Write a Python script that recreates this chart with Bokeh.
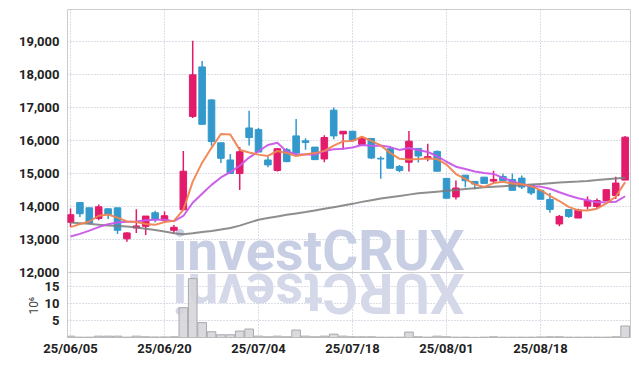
import math
from bokeh.plotting import figure
from bokeh.models import Range1d, FixedTicker, Grid, Span, Label
from bokeh.embed import file_html
from bokeh.resources import INLINE
from bokeh.core.properties import value

dates = ["25/06/05", "25/06/09", "25/06/10", "25/06/11", "25/06/12", "25/06/13",
         "25/06/16", "25/06/17", "25/06/18", "25/06/19", "25/06/20",
         "25/06/23", "25/06/24", "25/06/25", "25/06/26", "25/06/27",
         "25/06/30", "25/07/01", "25/07/02", "25/07/03", "25/07/04",
         "25/07/07", "25/07/08", "25/07/09", "25/07/10", "25/07/11",
         "25/07/14", "25/07/15", "25/07/16", "25/07/17", "25/07/18",
         "25/07/21", "25/07/22", "25/07/23", "25/07/24", "25/07/25",
         "25/07/28", "25/07/29", "25/07/30", "25/07/31", "25/08/01",
         "25/08/04", "25/08/05", "25/08/06", "25/08/07", "25/08/08",
         "25/08/11", "25/08/12", "25/08/13", "25/08/14",
         "25/08/18", "25/08/19", "25/08/20", "25/08/21", "25/08/22",
         "25/08/25", "25/08/26", "25/08/27", "25/08/28", "25/08/29"]

opens = [13520, 14120, 13960, 13640, 13930, 13960, 13020, 13350, 13400, 13810,
         13580, 13280, 13900, 16730, 18230, 17230, 15930, 15410, 15000, 16380,
         16330, 15410, 15090, 15720, 16140, 15990, 15800, 15440, 16920, 16200,
         16280, 15880, 16060, 15460, 15750, 15210, 15340, 15760, 15470, 15670,
         14850, 14290, 14950, 14760, 14890, 14770, 14910, 14820, 14860, 14650,
         14490, 14210, 13470, 13910, 13650, 14010, 14000, 14180, 14330, 14800]
highs = [13940, 14140, 13960, 14060, 13950, 13960, 13220, 13920, 13710, 13870,
         13850, 13440, 15680, 19020, 18410, 17250, 15930, 15590, 15800, 16900,
         16380, 15500, 15770, 15770, 16650, 16070, 15800, 16160, 17000, 16280,
         16280, 16130, 16060, 15520, 15830, 15260, 16290, 15760, 15900, 15700,
         14850, 14790, 14950, 14760, 14890, 15080, 14990, 15000, 14940, 14650,
         14490, 14410, 13740, 13910, 13930, 14300, 14240, 14510, 14900, 16140]
lows = [13380, 13680, 13460, 13580, 13620, 13170, 12930, 13200, 13140, 13520,
        13500, 13200, 13860, 16680, 16490, 15840, 15320, 15000, 14500, 15850,
        15650, 15190, 15060, 15340, 15600, 15720, 15420, 15340, 16040, 15730,
        16000, 15860, 15440, 14840, 15160, 15040, 15060, 15330, 15370, 15070,
        14250, 14210, 14580, 14520, 14700, 14700, 14740, 14490, 14530, 14350,
        14220, 13810, 13400, 13660, 13650, 13910, 13950, 14180, 14230, 14800]
closes = [13750, 13780, 13500, 13990, 13760, 13280, 13200, 13410, 13710, 13620,
          13720, 13370, 15070, 17990, 16490, 15970, 15460, 15000, 15660, 16090,
          15650, 15260, 15750, 15360, 15620, 15940, 15420, 16090, 16140, 16280,
          16000, 16060, 15470, 15440, 15160, 15090, 15980, 15530, 15510, 15070,
          14250, 14560, 14780, 14680, 14700, 14820, 14780, 14490, 14590, 14410,
          14220, 13910, 13700, 13700, 13890, 14190, 14180, 14510, 14710, 16100]
volume_m = [0.4, 0.1, 0.1, 0.4, 0.4, 0.4, 0.1, 0.4, 0.2, 0.15,
            0.15, 0.2, 8.8, 17.4, 4.4, 1.7, 0.8, 0.8, 1.9, 2.5,
            0.4, 0.2, 0.4, 0.2, 2.2, 0.4, 0.2, 0.4, 1.0, 0.4,
            0.2, 0.2, 0.2, 0.1, 0.1, 0.1, 1.6, 0.2, 0.1, 0.4,
            0.2, 0.1, 0.1, 0.05, 0.1, 0.2, 0.1, 0.1, 0.1, 0.1,
            0.15, 0.2, 0.2, 0.1, 0.1, 0.1, 0.1, 0.1, 0.2, 3.4]
ma5 = [13375, 13465, 13545, 13720, 13756, 13662, 13546, 13528, 13472, 13444,
       13532, 13566, 13898, 14754, 15328, 15778, 16196, 16182, 15716, 15636,
       15572, 15532, 15682, 15622, 15528, 15586, 15618, 15686, 15842, 15974,
       15986, 16114, 15990, 15850, 15626, 15444, 15428, 15440, 15454, 15436,
       15268, 14984, 14834, 14668, 14594, 14708, 14752, 14694, 14676, 14618,
       14498, 14324, 14166, 13988, 13884, 13878, 13932, 14094, 14296, 14738]
ma10 = [13090, 13170, 13270, 13375, 13465, 13515, 13535, 13545, 13585, 13600,
        13597, 13556, 13713, 14113, 14386, 14655, 14881, 15040, 15235, 15482,
        15675, 15864, 15932, 15669, 15582, 15579, 15575, 15684, 15732, 15751,
        15786, 15866, 15838, 15846, 15800, 15715, 15771, 15715, 15652, 15531,
        15356, 15206, 15137, 15061, 15015, 14988, 14868, 14764, 14672, 14606,
        14603, 14538, 14430, 14332, 14251, 14188, 14128, 14130, 14142, 14311]
ma_long = [13515, 13495, 13475, 13450, 13425, 13410, 13395, 13360, 13325, 13285,
           13240, 13190, 13160, 13190, 13230, 13260, 13300, 13350, 13420, 13510,
           13600, 13650, 13700, 13750, 13790, 13830, 13880, 13930, 13980, 14030,
           14080, 14140, 14190, 14240, 14280, 14320, 14360, 14400, 14425, 14450,
           14475, 14500, 14530, 14555, 14580, 14600, 14615, 14630, 14645, 14665,
           14685, 14705, 14725, 14745, 14760, 14776, 14800, 14825, 14850, 14870]

price_ticks = [12000, 13000, 14000, 15000, 16000, 17000, 18000, 19000]
vol_ticks = [5, 10, 15]
date_ticks = [0, 10, 20, 30, 40, 50]

UP, DOWN = "#e31b6b", "#3399cc"
FONT = "Roboto"

idx = list(range(len(dates)))
colors = [UP if c >= o else DOWN for o, c in zip(opens, closes)]
body_top = [max(o, c) for o, c in zip(opens, closes)]
body_bot = [min(o, c) for o, c in zip(opens, closes)]

X0, X1 = -0.32, 59.57
P_LO, P_HI = 10030, 19970
V_MAX = 19.2
V_TOP = V_MAX * (P_HI - P_LO) / (12000 - P_LO)

p = figure(width=635, height=359, x_range=Range1d(X0, X1),
           y_range=Range1d(P_LO, P_HI), output_backend="svg",
           toolbar_location=None, min_border_left=67, min_border_right=5,
           min_border_top=9, min_border_bottom=22)
p.extra_y_ranges = {"vol": Range1d(0, V_TOP)}
p.outline_line_color = "#cccccc"
p.background_fill_color = "white"

GRID = "#b9bdcf"
p.xgrid.ticker = FixedTicker(ticks=date_ticks)
p.ygrid.ticker = FixedTicker(ticks=price_ticks)
for g in (p.xgrid[0], p.ygrid[0]):
    g.grid_line_color = GRID
    g.grid_line_dash = "1 2"
    g.grid_line_width = 1
vgrid = Grid(dimension=1, ticker=FixedTicker(ticks=vol_ticks), y_range_name="vol",
             grid_line_color=GRID, grid_line_dash="1 2", grid_line_width=1)
p.add_layout(vgrid)
p.add_layout(Span(location=12000, dimension="width", line_color="#cfcfcf", line_width=1))

# watermark and its reflection
wm = dict(text_align="center", text_baseline="bottom", text_font=value(FONT),
          text_font_style="bold", text_font_size=value("55px"))
p.text(x=[26.4], y=[12000], text=["investCRUX"], y_offset=11,
       text_color="#c8cee4", **wm)
p.text(x=[26.4], y=[12000], text=["XURCtsevni"], angle=math.pi, y_offset=-11,
       text_color="#d4d8e8", **wm)

# volume
p.vbar(x=idx, top=volume_m, bottom=0, width=0.92, y_range_name="vol",
       fill_color="#d3d3d8", fill_alpha=0.85, line_color="#a9a9ad", line_width=1)

# candles
p.segment(x0=idx, y0=lows, x1=idx, y1=highs, line_color=colors, line_width=1.5)
p.vbar(x=idx, top=body_top, bottom=body_bot, width=0.7, fill_color=colors,
       line_color=colors, line_width=1)

# moving averages
p.line(idx, ma_long, line_color="#7a7a7a", line_width=2, line_alpha=0.85)
p.line(idx, ma10, line_color="#c957ea", line_width=2, line_alpha=0.95)
p.line(idx, ma5, line_color="#ef8450", line_width=2, line_alpha=0.95)

# left axis: price ticks + volume ticks (volume mapped into the price scale)
def vol_to_price(v):
    return round(P_LO + v * (P_HI - P_LO) / V_TOP, 3)

left_ticks = price_ticks + [vol_to_price(v) for v in vol_ticks]
overrides = {t: f"{t:,}" for t in price_ticks}
for v in vol_ticks:
    overrides[vol_to_price(v)] = str(v)
ya = p.yaxis[0]
ya.ticker = FixedTicker(ticks=left_ticks)
ya.major_label_overrides = overrides
xa = p.xaxis[0]
xa.ticker = FixedTicker(ticks=date_ticks)
xa.major_label_overrides = {i: dates[i] for i in date_ticks}
for ax in (xa, ya):
    ax.axis_line_color = None
    ax.major_tick_line_color = None
    ax.minor_tick_line_color = None
    ax.major_tick_out = 0
    ax.minor_tick_out = 0
    ax.major_label_text_font = FONT
    ax.major_label_text_font_style = "bold"
    ax.major_label_text_font_size = "13px"
    ax.major_label_text_color = "#222222"
ya.major_label_standoff = 8
xa.major_label_standoff = 3

p.add_layout(Label(x=-3.85, y=9.4, y_range_name="vol", text="10⁶", angle=math.pi / 2,
                   text_align="center", text_baseline="middle",
                   text_font=FONT, text_font_size="12px", text_color="#444444"), "left")

open("out.html", "w").write(file_html(p, INLINE))
